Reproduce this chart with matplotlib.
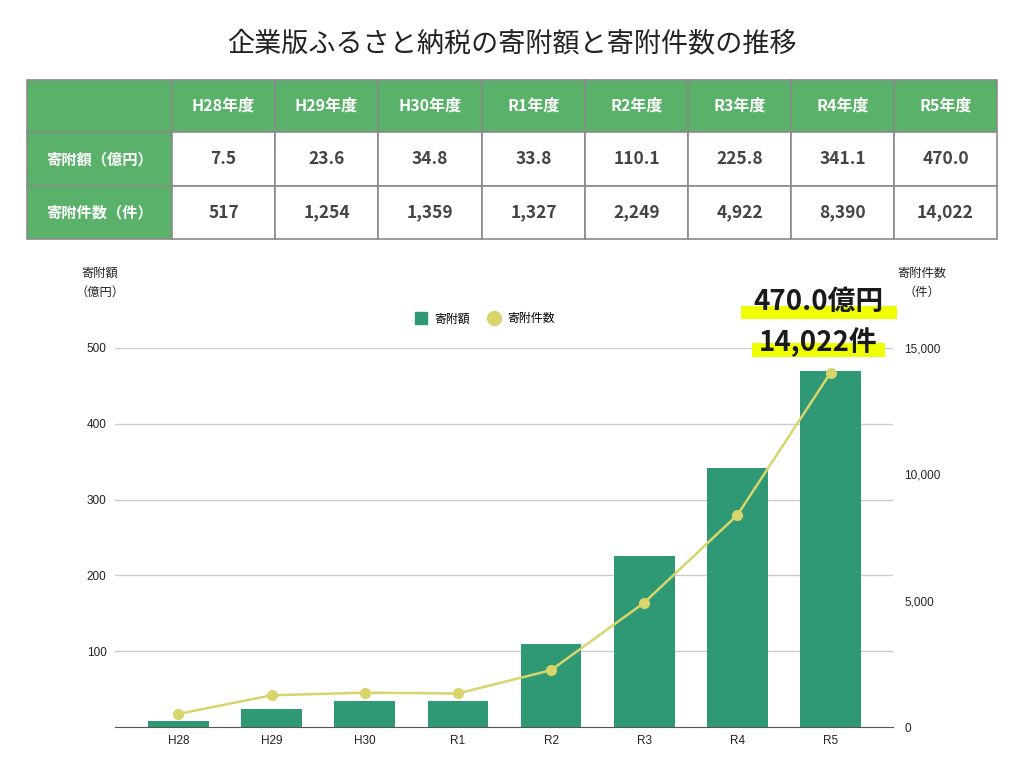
import matplotlib
matplotlib.use('Agg')
import matplotlib.pyplot as plt
from matplotlib.patches import Rectangle
from matplotlib.lines import Line2D

plt.rcParams['font.family'] = ['Noto Sans CJK JP', 'DejaVu Sans']

# data
years = ['H28', 'H29', 'H30', 'R1', 'R2', 'R3', 'R4', 'R5']
amounts = [7.5, 23.6, 34.8, 33.8, 110.1, 225.8, 341.1, 470.0]   # 億円
counts = [517, 1254, 1359, 1327, 2249, 4922, 8390, 14022]      # 件
row_labels = ['寄附額（億円）', '寄附件数（件）']

title = '企業版ふるさと納税の寄附額と寄附件数の推移'

GREEN_TBL = '#5ab26a'
GREEN_BAR = '#2e9974'
YELLOW_LINE = '#d7d56c'
HILITE = '#f0ff00'
TXT = '#222222'

fig = plt.figure(figsize=(10.24, 7.68), dpi=100)

# chart area
W, H = 1024, 768
x0, x1, y0, y1 = 115, 893, 727, 348
ax = fig.add_axes([x0 / W, 1 - y0 / H, (x1 - x0) / W, (y0 - y1) / H])
xs = list(range(len(years)))
ax.bar(xs, amounts, width=0.65, color=GREEN_BAR, zorder=2)
ax.set_ylim(0, 500)
ax.set_xlim(-0.68, 7.67)
ax.set_yticks([100, 200, 300, 400, 500])
ax.set_xticks(xs)
ax.set_xticklabels(years)
ax.grid(axis='y', color='#cccccc', linewidth=1, zorder=0)
for s in ['top', 'right', 'left']:
    ax.spines[s].set_visible(False)
ax.spines['bottom'].set_color('#555555')
ax.tick_params(length=0, labelsize=8.5, colors=TXT, pad=6)
for lab in ax.get_xticklabels() + ax.get_yticklabels():
    lab.set_family('Liberation Sans')

ax2 = ax.twinx()
ax2.plot(xs, counts, color=YELLOW_LINE, linewidth=1.8, marker='o',
         markersize=7, zorder=3)
ax2.set_ylim(0, 15000)
ax2.set_yticks([0, 5000, 10000, 15000])
ax2.set_yticklabels([f'{v:,}' for v in [0, 5000, 10000, 15000]])
for s in ['top', 'right', 'left', 'bottom']:
    ax2.spines[s].set_visible(False)
ax2.tick_params(length=0, labelsize=8.5, colors=TXT, pad=8)
for lab in ax2.get_yticklabels():
    lab.set_family('Liberation Sans')

handles = [Line2D([], [], linestyle='none', marker='s', markersize=9, color=GREEN_BAR),
           Line2D([], [], linestyle='none', marker='o', markersize=10, color=YELLOW_LINE)]
ax.legend(handles, ['寄附額', '寄附件数'], loc='center', bbox_to_anchor=(0.475, 1.077),
          ncol=2, frameon=False, fontsize=8.6, handletextpad=0.5, columnspacing=1.4,
          handlelength=1.2)

# overlay in pixel coordinates for title / table / annotations
ov = fig.add_axes([0, 0, 1, 1], zorder=5)
ov.set_xlim(0, W)
ov.set_ylim(H, 0)
ov.axis('off')
ov.patch.set_alpha(0)

ov.text(512, 44, title, ha='center', va='center', fontsize=19.5, color=TXT)

# table
col_edges = [27, 172, 275, 378, 482, 585, 688, 791, 894, 997]
row_edges = [80, 132, 186, 239]
for r in range(3):
    for c in range(9):
        green = r == 0 or c == 0
        ov.add_patch(Rectangle((col_edges[c], row_edges[r]),
                               col_edges[c + 1] - col_edges[c],
                               row_edges[r + 1] - row_edges[r],
                               facecolor=GREEN_TBL if green else 'white',
                               edgecolor='#8a8a8a', linewidth=1.2))

def cx(c):
    return (col_edges[c] + col_edges[c + 1]) / 2

def cy(r):
    return (row_edges[r] + row_edges[r + 1]) / 2

for i, y in enumerate(years):
    ov.text(cx(i + 1), cy(0), f'{y}年度', ha='center', va='center',
            fontsize=11.5, fontweight='bold', color='white')
for r, lab in enumerate(row_labels):
    ov.text(cx(0), cy(r + 1), lab, ha='center', va='center',
            fontsize=11, fontweight='bold', color='white')
for i, v in enumerate(amounts):
    ov.text(cx(i + 1), cy(1), f'{v:.1f}', ha='center', va='center',
            fontsize=12.5, fontweight='bold', color='#444444')
for i, v in enumerate(counts):
    ov.text(cx(i + 1), cy(2), f'{v:,}', ha='center', va='center',
            fontsize=12.5, fontweight='bold', color='#444444')

# axis titles
ov.text(100, 273, '寄附額', ha='center', va='center', fontsize=8.8, color=TXT)
ov.text(100, 292, '（億円）', ha='center', va='center', fontsize=8.8, color=TXT)
ov.text(922, 273, '寄附件数', ha='center', va='center', fontsize=8.8, color=TXT)
ov.text(922, 292, '（件）', ha='center', va='center', fontsize=8.8, color=TXT)

# highlighted annotations
ov.add_patch(Rectangle((741, 306), 156, 13, facecolor=HILITE, edgecolor='none'))
ov.add_patch(Rectangle((752, 343), 133, 14, facecolor=HILITE, edgecolor='none'))
ov.text(818, 302, f'{amounts[-1]:.1f}億円', ha='center', va='center',
        fontsize=20, fontweight='bold', color='#1a1a1a')
ov.text(818, 342, f'{counts[-1]:,}件', ha='center', va='center',
        fontsize=20, fontweight='bold', color='#1a1a1a')

fig.savefig('out.png', dpi=100)
